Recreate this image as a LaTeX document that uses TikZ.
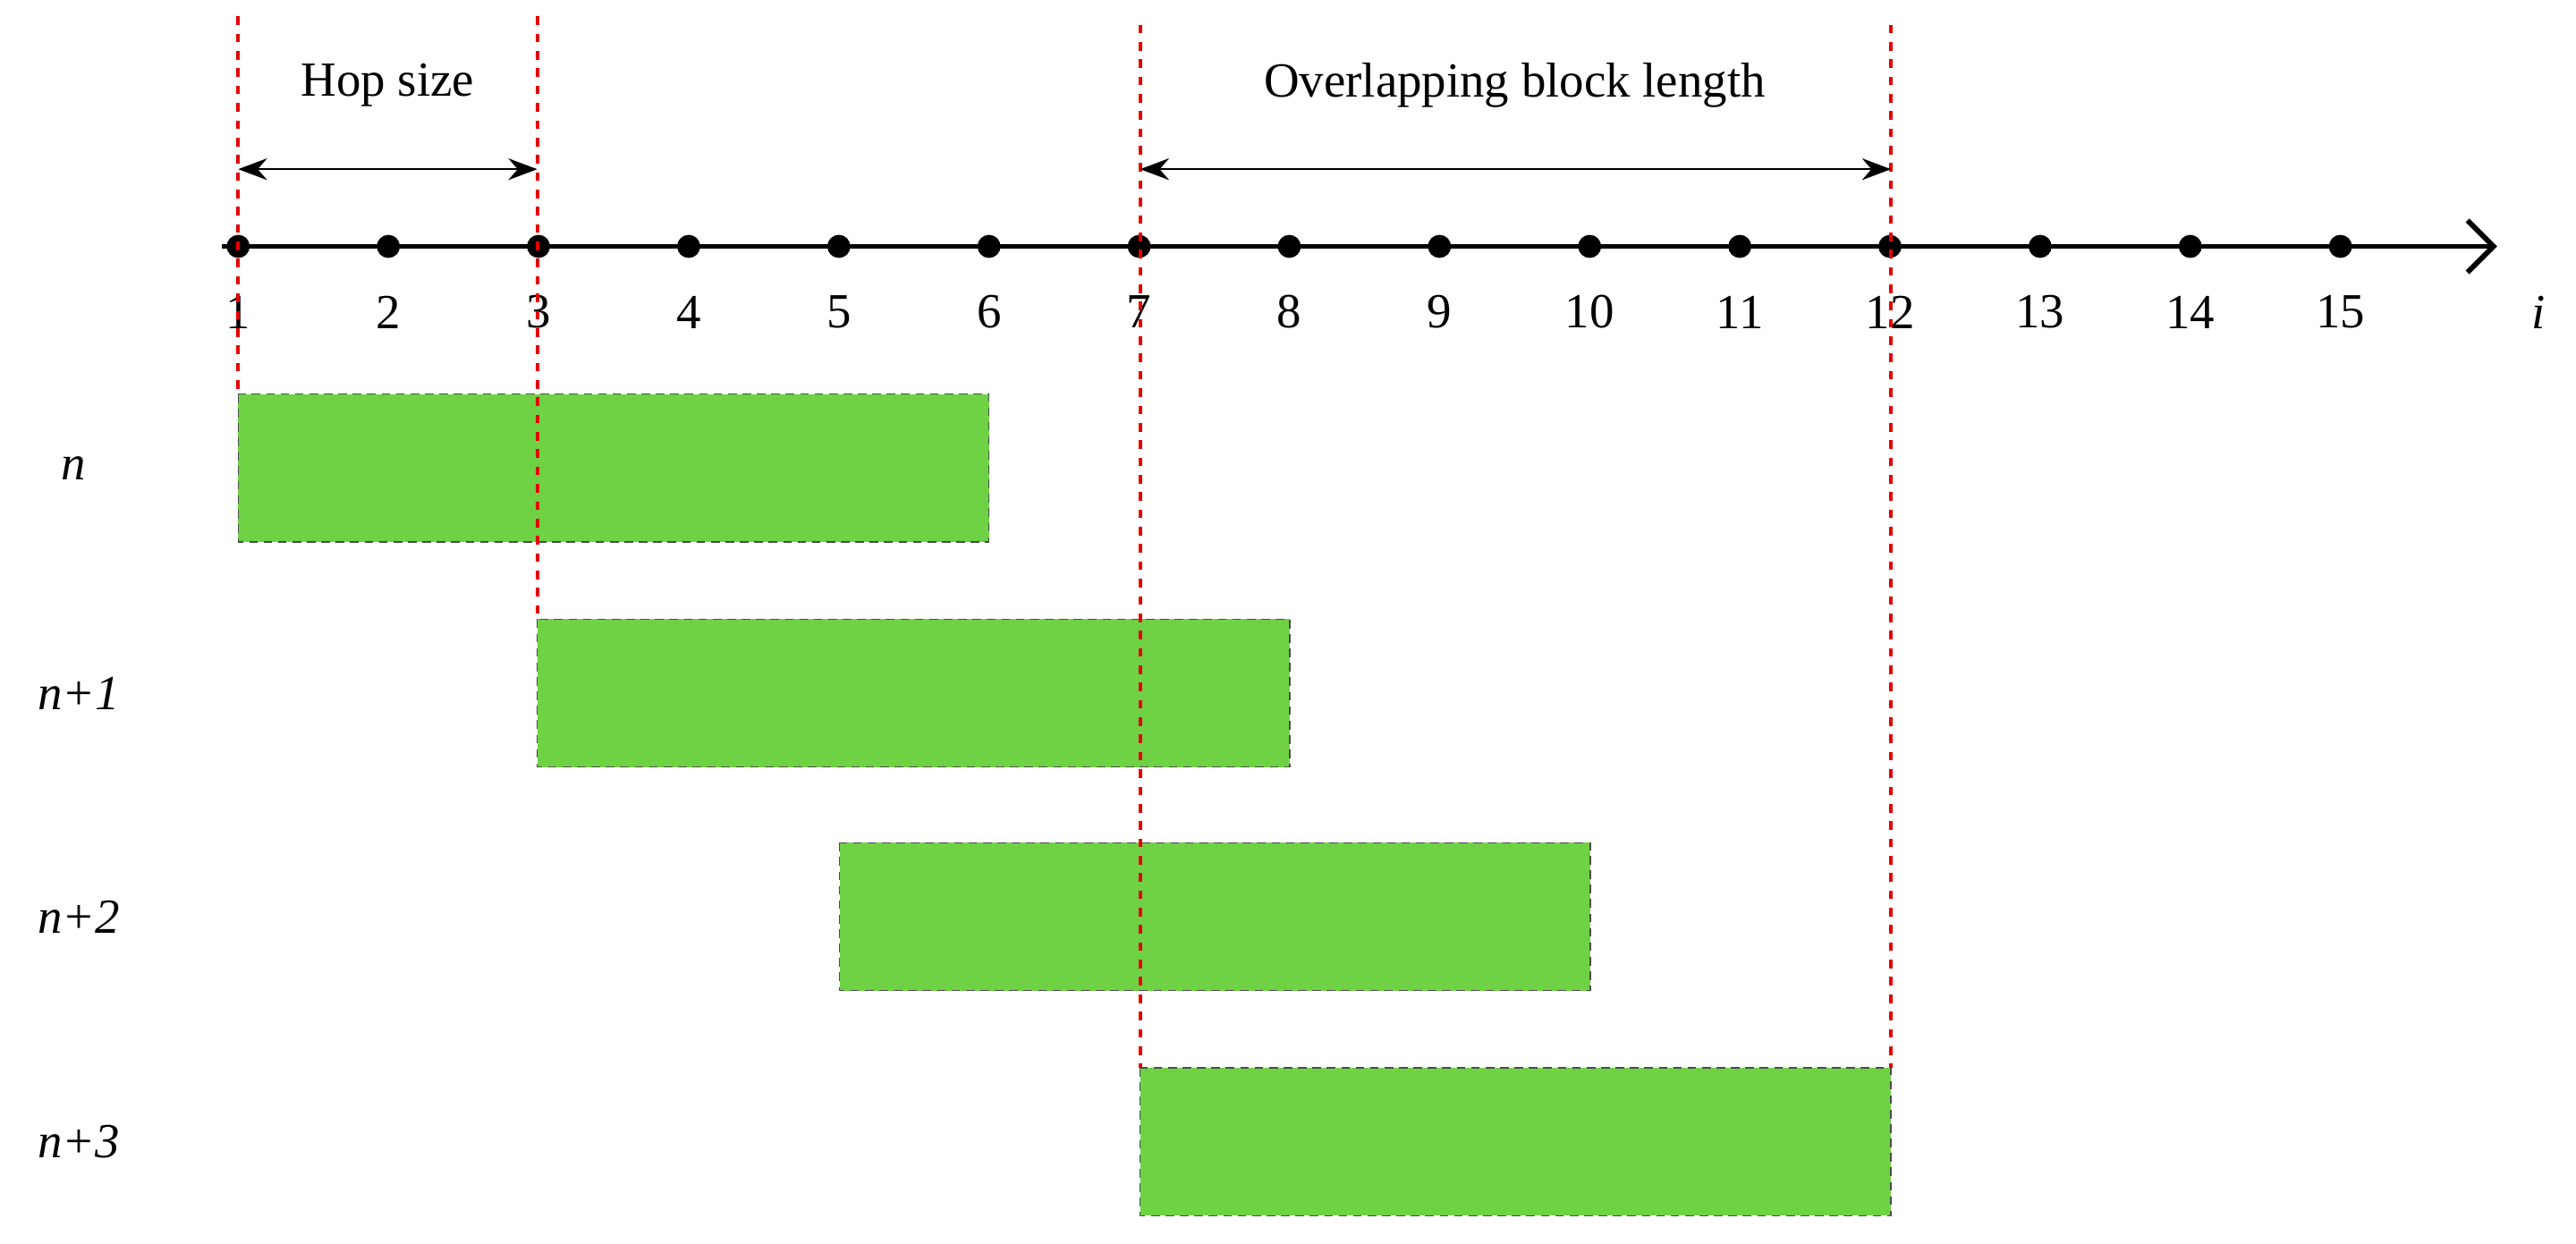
\documentclass[tikz,border=0pt]{standalone}
\usepackage{fontspec}
\setmainfont{Liberation Serif}
\usetikzlibrary{arrows.meta}
\definecolor{blockgreen}{RGB}{110,210,68}
\begin{document}
\begin{tikzpicture}[x=0.02cm,y=-0.02cm,
  font=\fontsize{17}{20}\selectfont,
  block/.style={fill=blockgreen,draw=black!70,densely dashed,thin},
  redline/.style={red!90!black,dashed,line width=1.2pt},
  span/.style={{Stealth[length=10pt]}-{Stealth[length=10pt]},thick}]

      % margins
      \useasboundingbox (0,0) rectangle (1568,757);

      % axis
      \draw[line width=1.8pt,-{Straight Barb[length=9pt]}] (135,150) -- (1520,150);
      \foreach \k in {1,...,15}{
        \node[circle,fill=black,inner sep=0pt,minimum size=8pt] (p\k) at ({145+91.4*(\k-1)},150) {};
        \node (l\k) at ({145+91.4*(\k-1)},190) {\k};
      }
      \node (li) at (1545,190) {\textit{i}};

      % blocks
      \draw[block] (145,240) rectangle (602,330);
      \draw[block] (327,377) rectangle (785,467);
      \draw[block] (511,513) rectangle (968,603);
      \draw[block] (694,650) rectangle (1151,740);

      % block labels
      \node (bn)  at (45,285) {\textit{n}};
      \node (bn1) at (48,422) {\textit{n+1}};
      \node (bn2) at (48,558) {\textit{n+2}};
      \node (bn3) at (48,695) {\textit{n+3}};

      % red guide lines
      \draw[redline] (145,10) -- (145,240);
      \draw[redline] (327,10) -- (327,377);
      \draw[redline] (694,15) -- (694,650);
      \draw[redline] (1151,15) -- (1151,650);

      % spans
      \coordinate (h1) at (145,103);
      \coordinate (h2) at (327,103);
      \coordinate (o1) at (694,103);
      \coordinate (o2) at (1151,103);
      \draw[span] (h1) -- (h2);
      \draw[span] (o1) -- (o2);
      \node (hop) at (236,52) {Hop size};
      \node (ovl) at (922,52) {Overlapping block length};

\end{tikzpicture}
\end{document}
